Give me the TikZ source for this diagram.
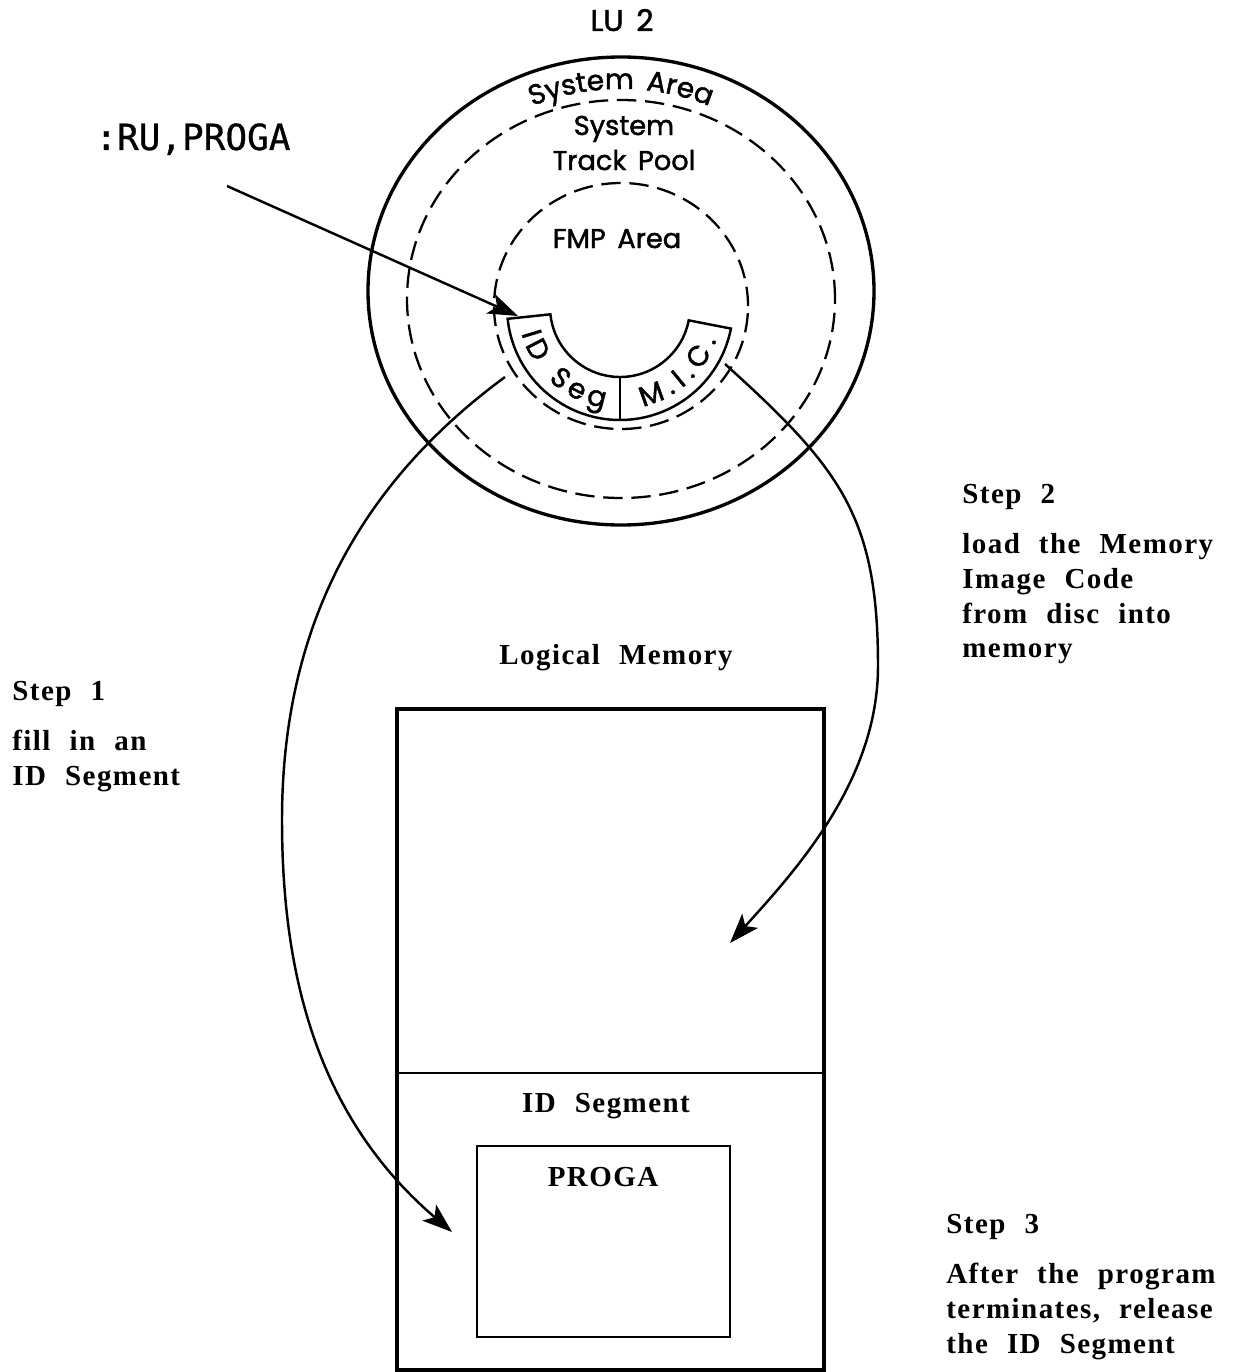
\documentclass[tikz,border=0pt]{standalone}
\usepackage{fontspec}
\setmainfont{Liberation Serif}[LetterSpace=5,WordSpace=2.2]
\newfontfamily\discfont{Poppins}[WordSpace=1.6,FakeBold=1.6]
\newfontfamily\termfont{DejaVu Sans Mono}[FakeBold=0.8]
\usetikzlibrary{arrows.meta,decorations.text}

\begin{document}
\begin{tikzpicture}[x=0.02cm,y=0.02cm,
    ring/.style={line width=1.9pt},
    dashring/.style={line width=1.3pt,dash pattern=on 11pt off 5pt},
    flow/.style={line width=1.4pt,-{Stealth[length=17pt,width=12pt,inset=4pt]}},
    disctext/.style={font=\discfont\fontsize{15.5}{19}\selectfont,inner sep=0pt,anchor=base},
    booktext/.style={font=\bfseries\fontsize{16.5}{19.8}\selectfont,inner sep=0pt}]
    \useasboundingbox (0,0) rectangle (1234,-1372);

    % 磁盘 LU 2
    \node (lu) [disctext,font=\discfont\fontsize{17}{19}\selectfont] at (622,-31) {LU 2};
    \draw[ring] (621,-291) ellipse[x radius=253,y radius=234];
    \draw[dashring] (621,-299) ellipse[x radius=214,y radius=199];
    \draw[dashring] (621,-306) ellipse[x radius=127,y radius=123];
    \path[decorate,decoration={text along path,text align=center,
        text={|\discfont\fontsize{16}{19}\selectfont|System Area}}]
        (621,-291) ++(120:220 and 202) arc[start angle=120,end angle=60,x radius=220,y radius=202];
    \node (sys) [disctext] at (624,-135) {System};
    \node (pool) [disctext] at (624,-170) {Track Pool};
    \node (fmp) [disctext] at (617,-248) {FMP Area};

    % ID Seg / M.I.C. 扇区
    \begin{scope}[shift={(620,-307)}]
        \draw[line width=1.4pt] (186:113) arc[start angle=186,end angle=349,radius=113]
            -- (349:70) arc[start angle=349,end angle=186,radius=70] -- cycle;
        \draw[line width=0.9pt] (270:70) -- (270:113);
        \path[decorate,decoration={text along path,text align=fit to path,
            text={|\discfont\fontsize{16}{19}\selectfont|ID Seg}}]
            (195:102) arc[start angle=195,end angle=261,radius=102];
        \path[decorate,decoration={text along path,text align=fit to path,
            text={|\discfont\fontsize{16}{19}\selectfont|M.I.C.}}]
            (283:102) arc[start angle=283,end angle=341,radius=102];
    \end{scope}

    % 命令
    \node (cmd) [font=\termfont\fontsize{20.5}{22}\selectfont,inner sep=0pt,anchor=base west] at (95,-150) {:RU,PROGA};
    \coordinate (runstart) at (227,-186);
    \coordinate (idtop) at (518,-316);
    \draw[flow] (runstart) -- (idtop);

    % 逻辑内存
    \node (logmem) [booktext,anchor=base] at (616,-664) {Logical Memory};
    \draw[ring] (397,-709) rectangle (824,-1370);
    \draw[line width=1.3pt] (397,-1073) -- (824,-1073);
    \node (idsegbox) [booktext,anchor=base] at (606,-1112) {ID Segment};
    \draw[line width=1.5pt] (477,-1146) rectangle (730,-1337);
    \node (proga) [booktext,anchor=base] at (603,-1186) {PROGA};

    % 步骤 1 与 2 的箭头
    \coordinate (idout) at (505,-377);
    \coordinate (idslot) at (452,-1232);
    \draw[flow] (idout) .. controls (365,-480) and (282,-620) .. (282,-820)
        .. controls (282,-970) and (315,-1115) .. (idslot);
    \coordinate (micout) at (725,-364);
    \coordinate (micslot) at (730,-943);
    \draw[flow] (micout) .. controls (840,-468) and (878,-516) .. (878,-666)
        .. controls (878,-780) and (797,-869) .. (micslot);

    % 说明文字
    \node (step1) [booktext,anchor=base west] at (12,-700) {Step 1};
    \node (step1txt) [booktext,anchor=north west,align=left] at (12,-730) {fill in an\\ID Segment};
    \node (step2) [booktext,anchor=base west] at (962,-503) {Step 2};
    \node (step2txt) [booktext,anchor=north west,align=left] at (962,-533)
        {load the Memory\\Image Code\\from disc into\\memory};
    \node (step3) [booktext,anchor=base west] at (946,-1233) {Step 3};
    \node (step3txt) [booktext,anchor=north west,align=left] at (946,-1263)
        {After the program\\terminates, release\\the ID Segment};
\end{tikzpicture}
\end{document}
